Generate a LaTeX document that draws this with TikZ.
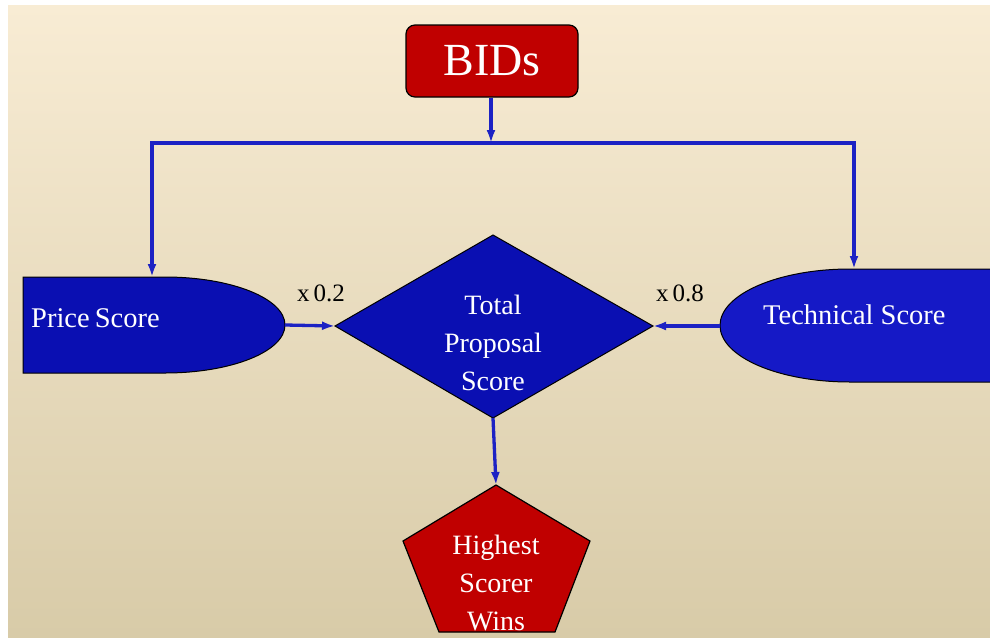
\documentclass[tikz,border=0pt]{standalone}
\usepackage{fontspec}
\setmainfont{Liberation Serif}
\usetikzlibrary{arrows.meta}
\definecolor{bgtop}{HTML}{F8ECD4}
\definecolor{bgbot}{HTML}{D8CBA8}
\definecolor{boxred}{HTML}{C00000}
\definecolor{deepblue}{HTML}{0A0FB2}
\definecolor{techblue}{HTML}{1519C6}
\definecolor{linkblue}{HTML}{1C22C4}
\tikzset{
  redbox/.style={draw=black, line width=1.2pt, fill=boxred},
  bluebox/.style={draw=black, line width=1pt, fill=deepblue},
  link/.style={draw=linkblue, line width=3.3pt},
  linkarrow/.style={link, -{Latex[length=13pt,width=9pt]}},
  whitetext/.style={text=white, align=center, inner sep=0pt},
  factor/.style={text=black, inner sep=0pt, font=\fontsize{25}{28}\selectfont},
}
\begin{document}
\begin{tikzpicture}[x=1pt, y=-1pt]
  % canvas and gradient backdrop
  \fill[white] (0,0) rectangle (990,637);
  \useasboundingbox (0,0) rectangle (990,637);
  \shade[top color=bgtop, bottom color=bgbot] (8,5) rectangle (990,637);

  % source box
  \node[redbox, rounded corners=9pt, minimum width=172pt, minimum height=72pt,
        whitetext, font=\fontsize{46}{50}\selectfont] (bids) at (492,61) {BIDs};

  % price score: flat left side closed by a half ellipse
  \path[bluebox] (23,277) -- (165,277) arc[start angle=-90, end angle=90,
        x radius=120, y radius=48] -- (23,373) -- cycle;
  \node[whitetext, anchor=west, font=\fontsize{28.5}{30}\selectfont] (price) at (31,318) {Price\kern-2pt\ Score};

  % technical score: half ellipse opening to the right edge
  \path[bluebox, fill=techblue] (1000,269) -- (850,269) arc[start angle=-90, end angle=-270,
        x radius=130, y radius=56.5] -- (1000,382) -- cycle;
  \node[whitetext, anchor=west, font=\fontsize{28.5}{30}\selectfont] (tech) at (763,315) {Technical Score};

  % decision diamond
  \path[bluebox] (493,235) -- (653,326) -- (493,418) -- (335,326) -- cycle;
  \node[whitetext, font=\fontsize{28}{38}\selectfont] (total) at (493,343) {Total\\Proposal\\Score};

  % outcome pentagon
  \path[redbox] (496,485) -- (590,541) -- (555,632) -- (439,632) -- (403,541) -- cycle;
  \node[whitetext, font=\fontsize{28}{38}\selectfont] (win) at (496,583) {Highest\\Scorer\\Wins};

  % weight labels
  \node[factor] (wp) at (321,293) {x\,0.2};
  \node[factor] (wt) at (680,293) {x\,0.8};

  % connection points on the drawn shapes
  \coordinate (split) at (491,143);
  \coordinate (lsplit) at (152,143);
  \coordinate (rsplit) at (854,143);
  \coordinate (price-n) at (152,277);
  \coordinate (tech-n) at (854,269);
  \coordinate (price-e) at (285,325);
  \coordinate (tech-w) at (720,326);
  \coordinate (total-w) at (335,326);
  \coordinate (total-e) at (653,326);
  \coordinate (total-s) at (493,418);
  \coordinate (win-n) at (496,485);

  % connectors
  \draw[linkarrow] (bids.south -| split) -- (split);
  \draw[link, line cap=rect] (lsplit) -- (rsplit);
  \draw[linkarrow] (lsplit) -- (price-n);
  \draw[linkarrow] (rsplit) -- (tech-n);
  \draw[linkarrow] (price-e) -- (total-w);
  \draw[linkarrow] (tech-w) -- (total-e);
  \draw[linkarrow] (total-s) -- (win-n);
\end{tikzpicture}
\end{document}
